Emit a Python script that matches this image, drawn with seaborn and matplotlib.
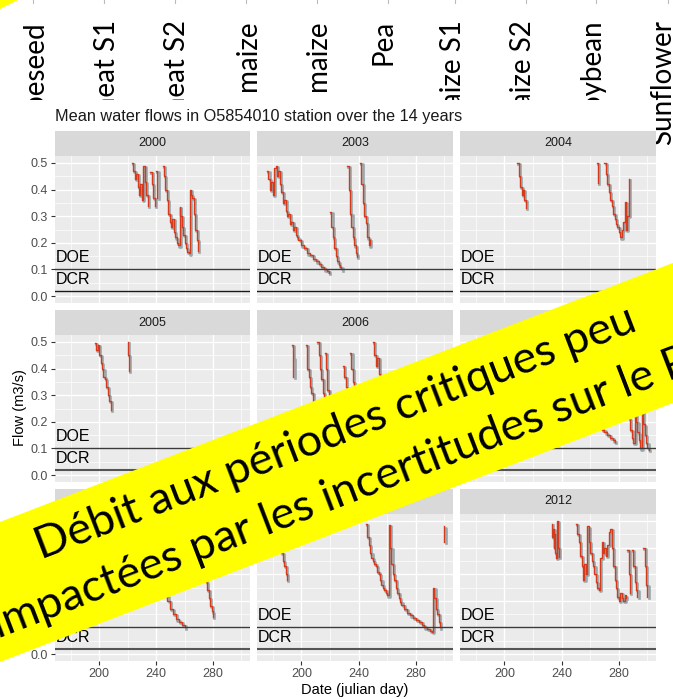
import numpy as np
import pandas as pd
import matplotlib
matplotlib.use('Agg')
import matplotlib.pyplot as plt
import matplotlib.transforms as mtransforms
from matplotlib.patches import Polygon, Rectangle
from matplotlib.lines import Line2D
import seaborn as sns

W, H = 673, 699

# crop names above the chart (partly hidden by the chart image)
crops = ['Rapeseed', 'Wheat S1', 'Wheat S2', 'maize', 'maize', 'Pea',
         'maize S1', 'maize S2', 'Soybean', 'Sunflower']
crop_x = [35, 107, 177, 248, 318, 383, 453, 523, 593, 663]

years = [2000, 2003, 2004, 2005, 2006, 2007, 2008, 2010, 2012]
doe = 0.1
dcr = 0.02

# mean flow (m3/s) per julian day, one list of segments per year
flow_2000 = [
    ([223, 224, 225, 226, 227, 228, 229, 230, 231, 232, 233, 234],
     [0.50, 0.47, 0.44, 0.46, 0.41, 0.38, 0.42, 0.36, 0.49, 0.43, 0.38, 0.34]),
    ([236, 237, 238, 239], [0.465, 0.42, 0.37, 0.34]),
    ([240, 241], [0.47, 0.37]),
    ([244.7, 245.5, 246.5, 247.5, 248.5, 249.5, 250.5, 251.5, 252.5, 253.5, 254.5, 255.5,
      256.5, 257, 258, 259, 260, 261, 262, 263, 263.5, 264.5, 265.5, 266.5, 267.5, 268.5, 269.5],
     [0.49, 0.45, 0.40, 0.36, 0.31, 0.28, 0.26, 0.29, 0.24, 0.22, 0.20, 0.19,
      0.335, 0.30, 0.26, 0.23, 0.20, 0.18, 0.165, 0.16, 0.40, 0.38, 0.37, 0.31, 0.25, 0.21, 0.17]),
]
flow_2003 = [
    ([176, 177, 178, 179, 180, 181, 182, 183, 184, 185, 186, 187, 188, 189, 190, 191, 192, 193,
      194, 195, 196, 197, 198, 200, 202, 204, 206, 208, 210, 212, 214, 216, 218, 219],
     [0.47, 0.44, 0.40, 0.43, 0.38, 0.48, 0.49, 0.45, 0.47, 0.42, 0.39, 0.35, 0.36, 0.32, 0.30, 0.31,
      0.27, 0.28, 0.25, 0.26, 0.23, 0.22, 0.21, 0.19, 0.18, 0.16, 0.155, 0.14, 0.13, 0.12, 0.11, 0.10,
      0.095, 0.087]),
    ([220, 221, 222, 223, 224, 225, 226, 227, 228],
     [0.316, 0.26, 0.22, 0.18, 0.15, 0.13, 0.115, 0.11, 0.10]),
    ([232, 233, 234, 235, 236, 237, 238, 239],
     [0.49, 0.40, 0.31, 0.26, 0.22, 0.19, 0.16, 0.147]),
    ([241, 242, 243, 244, 245, 246, 247, 248],
     [0.50, 0.42, 0.35, 0.30, 0.275, 0.22, 0.19, 0.21]),
]
flow_2004 = [
    ([209, 210, 211, 212, 213, 214, 215], [0.50, 0.45, 0.41, 0.38, 0.40, 0.36, 0.33]),
    ([265, 265.5], [0.50, 0.425]),
    ([270, 271, 272, 273, 274, 275, 276, 277, 278, 279, 280, 281, 282, 283, 284, 285, 286, 287],
     [0.50, 0.46, 0.42, 0.39, 0.36, 0.34, 0.31, 0.29, 0.27, 0.26, 0.24, 0.22, 0.25, 0.28,
      0.355, 0.25, 0.30, 0.44]),
]
flow_2005 = [
    ([197, 198, 199, 200, 201, 202, 203, 204, 205, 206, 207, 208],
     [0.497, 0.47, 0.49, 0.45, 0.42, 0.40, 0.37, 0.36, 0.33, 0.30, 0.28, 0.245]),
    ([220, 220.5, 221], [0.50, 0.45, 0.39]),
]
flow_2006 = [
    ([193.5, 194, 194.5], [0.49, 0.44, 0.37]),
    ([203, 204, 205, 206, 207, 208], [0.49, 0.40, 0.37, 0.33, 0.31, 0.28]),
    ([211, 212, 213, 214, 215, 216], [0.50, 0.45, 0.40, 0.36, 0.31, 0.28]),
    ([216.5, 217, 218, 219], [0.46, 0.40, 0.32, 0.29]),
    ([229, 230, 231, 232], [0.41, 0.37, 0.33, 0.30]),
    ([234, 235, 236, 237], [0.46, 0.40, 0.35, 0.31]),
    ([250, 251, 252, 253, 254, 255, 256, 257, 259, 261, 263],
     [0.50, 0.45, 0.41, 0.44, 0.38, 0.35, 0.32, 0.30, 0.27, 0.25, 0.23]),
]
flow_2007 = [
    ([255, 256, 258, 260, 262, 264, 266, 268, 270, 272, 274, 276, 277],
     [0.45, 0.40, 0.33, 0.28, 0.24, 0.21, 0.19, 0.17, 0.16, 0.15, 0.14, 0.13, 0.125]),
    ([285, 286, 287, 288, 289, 290, 291, 292, 293, 294, 295, 296, 297, 298, 299, 300, 301],
     [0.35, 0.27, 0.21, 0.17, 0.14, 0.12, 0.26, 0.20, 0.16, 0.13, 0.10, 0.25, 0.19, 0.15, 0.12, 0.10, 0.094]),
]
flow_2008 = [
    ([180, 182, 184, 186, 188, 190], [0.45, 0.40, 0.36, 0.33, 0.30, 0.28]),
    ([243, 245, 247, 248, 250, 252, 254, 256, 258, 260],
     [0.30, 0.25, 0.22, 0.20, 0.17, 0.15, 0.13, 0.12, 0.11, 0.10]),
    ([272, 273, 274, 275, 276, 277, 278, 279, 280],
     [0.40, 0.34, 0.30, 0.27, 0.24, 0.21, 0.18, 0.16, 0.14]),
]
flow_2010 = [
    ([183, 184, 185, 186, 187, 188, 189, 190], [0.45, 0.42, 0.40, 0.38, 0.35, 0.33, 0.30, 0.28]),
    ([245, 246, 247, 248, 249, 250, 251, 252, 253, 254, 255, 256, 257, 258, 259, 260,
      261, 262, 263, 264, 265, 266, 267, 268, 269, 270, 272, 274, 276, 278, 280, 282,
      284, 286, 288, 290, 291.5, 292, 293, 294, 295, 296, 297],
     [0.49, 0.44, 0.41, 0.38, 0.36, 0.35, 0.34, 0.33, 0.31, 0.30, 0.28, 0.26, 0.25, 0.24, 0.23, 0.22,
      0.485, 0.40, 0.34, 0.30, 0.28, 0.25, 0.23, 0.21, 0.195, 0.185, 0.17, 0.155, 0.145, 0.135, 0.128, 0.12,
      0.11, 0.10, 0.095, 0.088, 0.083, 0.25, 0.21, 0.17, 0.15, 0.12, 0.10]),
    ([299.5, 300], [0.48, 0.42]),
]
flow_2012 = [
    ([233, 233.5, 234, 234.5, 235, 235.5, 236, 236.5, 237, 237.5, 238],
     [0.49, 0.44, 0.47, 0.40, 0.45, 0.38, 0.36, 0.42, 0.50, 0.40, 0.365]),
    ([250, 251, 252, 253, 254, 255, 256, 257, 258, 259, 260, 261, 262, 263, 264, 265, 266, 267,
      268, 269, 270, 271, 272, 273, 274, 275, 276, 277, 278, 279, 280, 281, 282, 283, 284, 285],
     [0.49, 0.45, 0.42, 0.37, 0.33, 0.28, 0.34, 0.30, 0.48, 0.42, 0.38, 0.35, 0.33, 0.30, 0.27, 0.25,
      0.24, 0.36, 0.42, 0.38, 0.40, 0.37, 0.41, 0.46, 0.47, 0.40, 0.33, 0.28, 0.25, 0.215, 0.20, 0.23,
      0.21, 0.20, 0.22, 0.21]),
    ([286, 287, 288], [0.39, 0.30, 0.23]),
    ([289, 290, 291, 292, 293], [0.39, 0.33, 0.27, 0.24, 0.215]),
    ([297, 298, 299, 300], [0.40, 0.33, 0.26, 0.215]),
]
flows = [flow_2000, flow_2003, flow_2004, flow_2005, flow_2006,
         flow_2007, flow_2008, flow_2010, flow_2012]

rows = []
for year, segs in zip(years, flows):
    for k, (d, f) in enumerate(segs):
        for dd, ff in zip(d, f):
            rows.append((year, k, dd, ff))
df = pd.DataFrame(rows, columns=['year', 'seg', 'day', 'flow'])


def rect(l, t, r, b):
    return [l / W, 1 - b / H, (r - l) / W, (b - t) / H]


def fig_xy(x, y):
    return (x / W, 1 - y / H)


fig = plt.figure(figsize=(W / 100, H / 100), dpi=100)

# crop labels, covered below y=100 by the chart image
for name, x in zip(crops, crop_x):
    fig.text(x / W, 1 - 20 / H, name, rotation=90, ha='center', va='top',
             fontsize=20, family='Lato', color='black', zorder=-2)
fig.add_artist(Rectangle((0, 0), 655 / W, 1 - 100 / H, transform=fig.transFigure,
                         facecolor='white', edgecolor='none', zorder=-1))
for x in [33, 104, 175, 246, 317, 388, 455, 526, 596, 668]:
    fig.add_artist(Line2D([x / W, x / W], [1, 1 - 3 / H], color='#BBBBBB', lw=0.8,
                          transform=fig.transFigure, zorder=-1))

fig.text(55 / W, 1 - 117 / H, 'Mean water flows in O5854010 station over the 14 years',
         ha='left', va='center', fontsize=11.7, color='#1A1A1A', family='Liberation Sans')

col_lr = [(55, 250), (257, 453), (460, 656)]
row_tb = [(156, 303), (335, 482), (514, 661)]
gray_shift = mtransforms.ScaledTranslation(0.8 / 72, -0.9 / 72, fig.dpi_scale_trans)

for i, year in enumerate(years):
    r, c = divmod(i, 3)
    l, rr = col_lr[c]
    t, b = row_tb[r]
    ax = fig.add_axes(rect(l, t, rr, b))
    ax.set_facecolor('#EBEBEB')
    sub = df[df['year'] == year]

    n0 = len(ax.lines)
    sns.lineplot(data=sub, x='day', y='flow', units='seg', estimator=None, sort=False,
                 color='#97A9AE', lw=1.9, drawstyle='steps-post', ax=ax, legend=False)
    for ln in ax.lines[n0:]:
        ln.set_transform(ax.transData + gray_shift)
    sns.lineplot(data=sub, x='day', y='flow', units='seg', estimator=None, sort=False,
                 color='#D63A1C', lw=1.0, drawstyle='steps-post', ax=ax, legend=False)

    ax.axhline(doe, color='#3A3A3A', lw=1.0)
    if r == 0:
        ax.axhline(dcr, color='#1A1A1A', lw=1.0)
    else:
        ax.axhline(dcr, color='#555555', lw=1.5)
    ax.text(169.4, 0.143, 'DOE', ha='left', va='center', fontsize=11.5,
            family='Liberation Sans', color='black')
    ax.text(169.4, 0.061, 'DCR', ha='left', va='center', fontsize=11.5,
            family='Liberation Sans', color='black')

    ax.set_xlim(169, 306)
    ax.set_ylim(-0.026, 0.526)
    ax.set_xticks([200, 240, 280])
    ax.set_xticks([180, 220, 260, 300], minor=True)
    ax.set_yticks([0.0, 0.1, 0.2, 0.3, 0.4, 0.5])
    ax.set_yticks([0.05, 0.15, 0.25, 0.35, 0.45], minor=True)
    ax.set_yticklabels(['0.0', '0.1', '0.2', '0.3', '0.4', '0.5'])
    ax.grid(which='major', color='white', lw=1.0)
    ax.grid(which='minor', color='white', lw=0.5)
    ax.set_axisbelow(True)
    for s in ax.spines.values():
        s.set_visible(False)
    ax.set_xlabel('')
    ax.set_ylabel('')
    ax.tick_params(which='minor', length=0)
    ax.tick_params(axis='y', which='major', length=3 if c == 0 else 0, width=0.8,
                   color='#333333', labelsize=9, labelcolor='#4D4D4D', pad=2,
                   labelleft=(c == 0))
    ax.tick_params(axis='x', which='major', length=3 if r == 2 else 0, width=0.8,
                   color='#333333', labelsize=9, labelcolor='#4D4D4D', pad=2,
                   labelbottom=(r == 2))
    for lab in ax.get_xticklabels() + ax.get_yticklabels():
        lab.set_family('Liberation Sans')

    sax = fig.add_axes(rect(l, t - 25, rr, t))
    sax.set_facecolor('#D9D9D9')
    sax.set_xticks([])
    sax.set_yticks([])
    for s in sax.spines.values():
        s.set_visible(False)
    sax.text(0.5, 0.5, str(year), ha='center', va='center', fontsize=9,
             color='#1A1A1A', family='Liberation Sans', transform=sax.transAxes)

fig.text(20 / W, 1 - 408 / H, 'Flow (m3/s)', rotation=90, ha='center', va='center',
         fontsize=10.5, color='black', family='Liberation Sans')
fig.text(355 / W, 1 - 690 / H, 'Date (julian day)', ha='center', va='center',
         fontsize=10.5, color='black', family='Liberation Sans')

# yellow banner across the chart
banner = [fig_xy(-20, 529.7), fig_xy(700, 252.5), fig_xy(700, 392.5), fig_xy(-20, 669.7)]
fig.add_artist(Polygon(banner, closed=True, transform=fig.transFigure,
                       facecolor='#FFFF00', edgecolor='none', zorder=4))
fig.add_artist(Polygon([fig_xy(0, 0), fig_xy(18, 0), fig_xy(0, 9)], closed=True,
                       transform=fig.transFigure, facecolor='#FFFF00',
                       edgecolor='none', zorder=4))
x1, y1 = fig_xy(340, 445)
fig.text(x1, y1, 'Débit aux périodes critiques peu', rotation=21, rotation_mode='anchor',
         ha='center', va='baseline', fontsize=32.5, family='Lato', color='black', zorder=5)
x2, y2 = fig_xy(362, 499)
fig.text(x2, y2, 'impactées par les incertitudes sur le RU', rotation=21,
         rotation_mode='anchor', ha='center', va='baseline', fontsize=32.5, family='Lato',
         color='black', zorder=5)

fig.savefig('out.png', dpi=100)
